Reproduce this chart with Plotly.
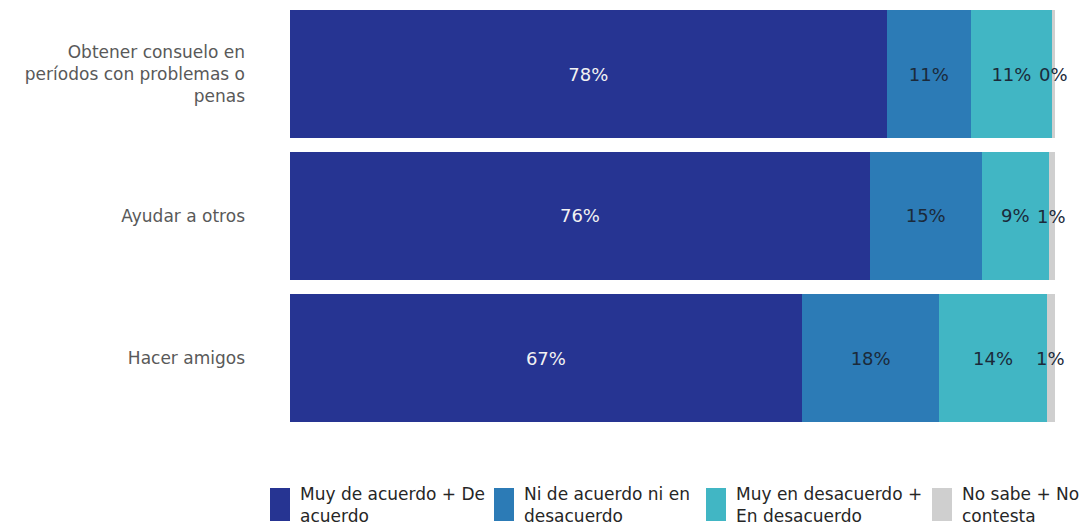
import plotly.graph_objects as go

# Survey items (top to bottom)
categories = [
    "Obtener consuelo en<br>períodos con problemas o<br>penas",
    "Ayudar a otros",
    "Hacer amigos",
]

# Response shares (%) per item
acuerdo = [78.0, 75.8, 66.9]
neutral = [11.0, 14.6, 18.0]
desacuerdo = [10.6, 8.8, 14.0]
ns_nc = [0.4, 0.8, 1.1]

series_names = [
    "Muy de acuerdo + De<br>acuerdo",
    "Ni de acuerdo ni en<br>desacuerdo",
    "Muy en desacuerdo +<br>En desacuerdo",
    "No sabe + No<br>contesta",
]
colors = ["#263492", "#2C7BB6", "#41B6C4", "#CFCFCF"]
text_colors = ["#F2F2F2", "#1B2A3A", "#1B2A3A", "#1B2A3A"]

FONT = "DejaVu Sans"
series = [acuerdo, neutral, desacuerdo, ns_nc]

fig = go.Figure()
for vals, name, col, tcol in zip(series, series_names, colors, text_colors):
    is_small = vals is ns_nc
    fig.add_trace(go.Bar(
        y=categories, x=vals, name=name, orientation="h",
        marker=dict(color=col, line=dict(width=0)),
        text=None if is_small else vals,
        texttemplate=None if is_small else "%{x:.0f}%",
        textposition="none" if is_small else "inside",
        insidetextanchor="middle", textangle=0,
        textfont=dict(family=FONT, size=18, color=tcol),
        showlegend=False,
    ))

# Labels for the thin "No sabe" segments, centred on each segment
for cat, a, b, c, d in zip(categories, acuerdo, neutral, desacuerdo, ns_nc):
    fig.add_annotation(
        x=a + b + c + d / 2, y=cat, text=f"{d:.0f}%", showarrow=False,
        font=dict(family=FONT, size=18, color="#1B2A3A"),
        xanchor="center", yanchor="middle",
    )

# Custom legend with tall swatches below the plot
W, H = 1082, 525
L, R, T, B = 290, 27, 3, 96
pw, ph = W - L - R, H - T - B


def px_x(px):
    return (px - L) / pw


def px_y(py):
    return (H - B - py) / ph


legend_x = [270, 494, 706, 932]
for lx, col, name in zip(legend_x, colors, series_names):
    fig.add_shape(
        type="rect", xref="paper", yref="paper",
        x0=px_x(lx), x1=px_x(lx + 20), y0=px_y(521), y1=px_y(488),
        fillcolor=col, line=dict(width=0),
    )
    fig.add_annotation(
        xref="paper", yref="paper", x=px_x(lx + 28), y=px_y(505),
        text=name, showarrow=False, xanchor="left", yanchor="middle",
        align="left", font=dict(family=FONT, size=17, color="#262626"),
    )

fig.update_layout(
    barmode="stack",
    bargap=0.105,
    width=W, height=H,
    margin=dict(l=L, r=R, t=T, b=B),
    paper_bgcolor="white", plot_bgcolor="white",
    font=dict(family=FONT),
    xaxis=dict(range=[0, 100], visible=False, fixedrange=True),
    yaxis=dict(
        autorange="reversed", showgrid=False, zeroline=False, showline=False,
        ticks="", ticklabelstandoff=44,
        tickfont=dict(family=FONT, size=17, color="#595959"),
    ),
    uniformtext=dict(minsize=18, mode="show"),
)

fig.write_html("out.html")
